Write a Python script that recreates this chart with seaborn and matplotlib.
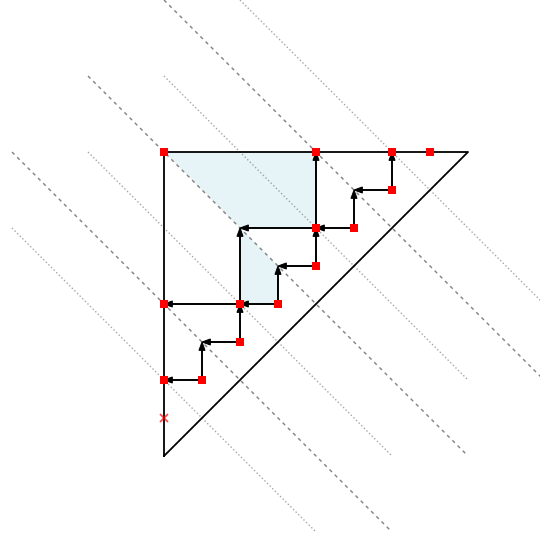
import seaborn as sns
import matplotlib.pyplot as plt

sns.set_style("white")

# triangle corners
tri_x = [0, 0, 8, 0]
tri_y = [0, 8, 8, 0]

# shaded region
shade_x = [0, 4, 4, 2, 2, 3, 3]
shade_y = [8, 8, 6, 6, 4, 4, 5]

# diagonal guide lines (start / end points)
dash_x0 = [-4, -2, 0]
dash_y0 = [8, 10, 12]
dash_x1 = [6, 8, 10]
dash_y1 = [-2, 0, 2]

dot_x0 = [-4, -2, 0, 2]
dot_y0 = [6, 8, 10, 12]
dot_x1 = [4, 6, 8, 10]
dot_y1 = [-2, 0, 2, 4]

# arrows (from -> to)
arr_x0 = [6, 6, 5, 5, 4, 4, 4, 4, 3, 3, 2, 2, 2, 2, 1, 1]
arr_y0 = [7, 7, 6, 6, 6, 5, 5, 6, 4, 4, 4, 4, 3, 3, 2, 2]
arr_x1 = [6, 5, 5, 4, 4, 4, 3, 2, 3, 2, 2, 0, 2, 1, 1, 0]
arr_y1 = [8, 7, 7, 6, 8, 6, 5, 6, 5, 4, 6, 4, 4, 3, 3, 2]

# red square points
pts_x = [0, 4, 6, 7, 6, 5, 4, 4, 3, 2, 2, 1, 0, 0]
pts_y = [8, 8, 8, 8, 7, 6, 6, 5, 4, 4, 3, 2, 2, 4]

# red cross
cross_x = [0]
cross_y = [1]

fig = plt.figure(figsize=(5.4, 5.39), dpi=100)
ax = fig.add_axes([0, 0, 1, 1])

ax.fill(shade_x, shade_y, color="lightblue", alpha=0.3, lw=0, zorder=1)

for x0, y0, x1, y1 in zip(dash_x0, dash_y0, dash_x1, dash_y1):
    ax.plot([x0, x1], [y0, y1], color="gray", ls=(0, (2.5, 2.8)), lw=1, zorder=2)
for x0, y0, x1, y1 in zip(dot_x0, dot_y0, dot_x1, dot_y1):
    ax.plot([x0, x1], [y0, y1], color="gray", ls=":", lw=1, alpha=0.7, zorder=2)

ax.plot(tri_x, tri_y, color="black", lw=1.3, zorder=3)

for x0, y0, x1, y1 in zip(arr_x0, arr_y0, arr_x1, arr_y1):
    ax.arrow(x0, y0, x1 - x0, y1 - y0, head_width=0.16, head_length=0.22,
             length_includes_head=True, fc="black", ec="black", lw=0.7, zorder=4)

sns.scatterplot(x=pts_x, y=pts_y, marker="s", color="red", s=28,
                edgecolor="none", zorder=5, ax=ax)
ax.plot(cross_x, cross_y, marker="x", color="red", ms=6, mew=1.3, alpha=0.7,
        ls="none", zorder=5)

ax.set_xlim(-164 / 38, (540 - 164) / 38)
ax.set_ylim((456 - 539) / 38, 456 / 38)
ax.set_aspect("equal")
ax.axis("off")

plt.savefig("out.png", dpi=100)
